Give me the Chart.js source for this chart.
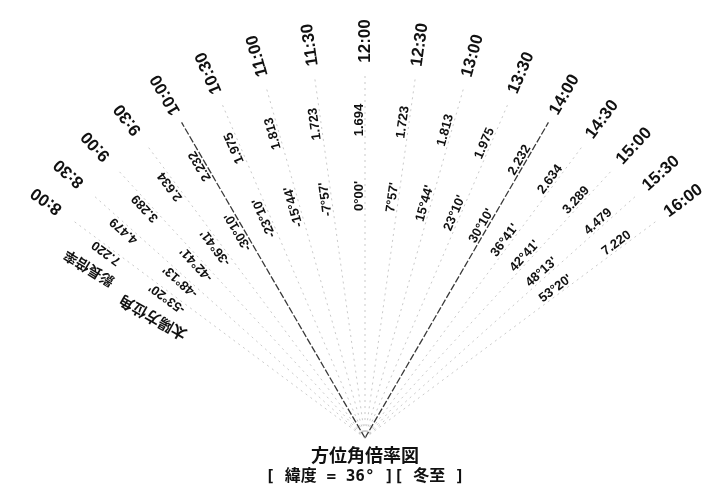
<!DOCTYPE html>
<html>
<head>
<meta charset="utf-8">
<script src="https://cdn.jsdelivr.net/npm/chart.js@4.4.1/dist/chart.umd.min.js"></script>
<style>
  html, body { margin: 0; padding: 0; background: #fff; }
  #wrap { width: 715px; height: 494px; }
</style>
</head>
<body>
<div id="wrap"><canvas id="azimuthChart" width="715" height="494"></canvas></div>
<script>
// winter solstice, latitude 36 deg
const times = ['8:00', '8:30', '9:00', '9:30', '10:00', '10:30', '11:00', '11:30', '12:00',
  '12:30', '13:00', '13:30', '14:00', '14:30', '15:00', '15:30', '16:00'];
const azimuthDeg = [-53, -48, -42, -36, -30, -23, -15, -7, 0, 7, 15, 23, 30, 36, 42, 48, 53];
const azimuthMin = [20, 13, 41, 41, 10, 10, 44, 57, 0, 57, 44, 10, 10, 41, 41, 13, 20];
const multipliers = [7.220, 4.479, 3.289, 2.634, 2.232, 1.975, 1.813, 1.723, 1.694,
  1.723, 1.813, 1.975, 2.232, 2.634, 3.289, 4.479, 7.220];
const rowHeaders = ['影長倍率', '太陽方位角'];
const darkTimes = ['10:00', '14:00'];
const titleText = '方位角倍率図';
const subtitleText = '[ 緯度 = 36° ][ 冬至 ]';

// layout (radius in px-like scale units)
const R_LINE = 365, R_MULT = 318, R_AZ = 242, R_TIME = 397;

const angleOf = i => Math.sign(azimuthDeg[i] || 1) * (Math.abs(azimuthDeg[i]) + azimuthMin[i] / 60);
const azLabel = i => azimuthDeg[i] + '°' + String(azimuthMin[i]).padStart(2, '0') + "'";
const rad = d => d * Math.PI / 180;

const datasets = times.map((t, i) => {
  const a = rad(angleOf(i));
  const dark = darkTimes.includes(t);
  return {
    label: t,
    data: [{ x: 0, y: 0 }, { x: R_LINE * Math.sin(a), y: R_LINE * Math.cos(a) }],
    showLine: true,
    borderColor: dark ? 'rgba(35,35,35,0.9)' : 'rgba(150,150,150,0.5)',
    borderWidth: dark ? 1.3 : 1,
    borderDash: dark ? [7, 2] : [2, 4],
    pointRadius: 0,
  };
});

const labelPlugin = {
  id: 'fanLabels',
  afterDatasetsDraw(chart) {
    const { ctx, scales: { x, y } } = chart;
    const put = (text, r, deg, font, off) => {
      const a = rad(deg);
      const px = x.getPixelForValue(r * Math.sin(a));
      const py = y.getPixelForValue(r * Math.cos(a));
      ctx.save();
      ctx.translate(px, py);
      ctx.rotate(rad(deg - 90));
      ctx.font = font;
      ctx.textAlign = 'center';
      ctx.textBaseline = 'middle';
      ctx.fillText(text, 0, -off);
      ctx.restore();
    };
    ctx.save();
    ctx.fillStyle = '#111';
    times.forEach((t, i) => {
      const deg = angleOf(i);
      put(t, R_TIME, deg, 'bold 17px "Liberation Sans", Arial, sans-serif', 0);
      put(multipliers[i].toFixed(3), R_MULT, deg, 'bold 13px "Liberation Sans", Arial, sans-serif', 6);
      put(azLabel(i), R_AZ, deg, 'bold 13px "Liberation Sans", Arial, sans-serif', 6);
    });
    put(rowHeaders[0], R_MULT + 6, -58.5, 'bold 14px "Noto Sans CJK JP", sans-serif', 0);
    put(rowHeaders[1], R_AZ + 2, -60.5, 'bold 15px "Noto Sans CJK JP", sans-serif', 0);

    const ox = x.getPixelForValue(0), oy = y.getPixelForValue(0);
    ctx.textAlign = 'center';
    ctx.textBaseline = 'middle';
    ctx.font = 'bold 18px "Noto Sans CJK JP", sans-serif';
    ctx.fillText(titleText, ox, oy + 17);
    ctx.font = 'bold 16px "DejaVu Sans Mono", "Noto Sans CJK JP", monospace';
    ctx.fillText(subtitleText, ox, oy + 39);
    ctx.restore();
  }
};

new Chart(document.getElementById('azimuthChart'), {
  type: 'scatter',
  data: { datasets },
  options: {
    responsive: false,
    animation: false,
    devicePixelRatio: 1,
    layout: { padding: 0 },
    plugins: { legend: { display: false }, tooltip: { enabled: false } },
    scales: {
      x: { type: 'linear', display: false, min: -365, max: 350 },
      y: { type: 'linear', display: false, min: -56, max: 438 },
    },
  },
  plugins: [labelPlugin],
});
</script>
</body>
</html>
